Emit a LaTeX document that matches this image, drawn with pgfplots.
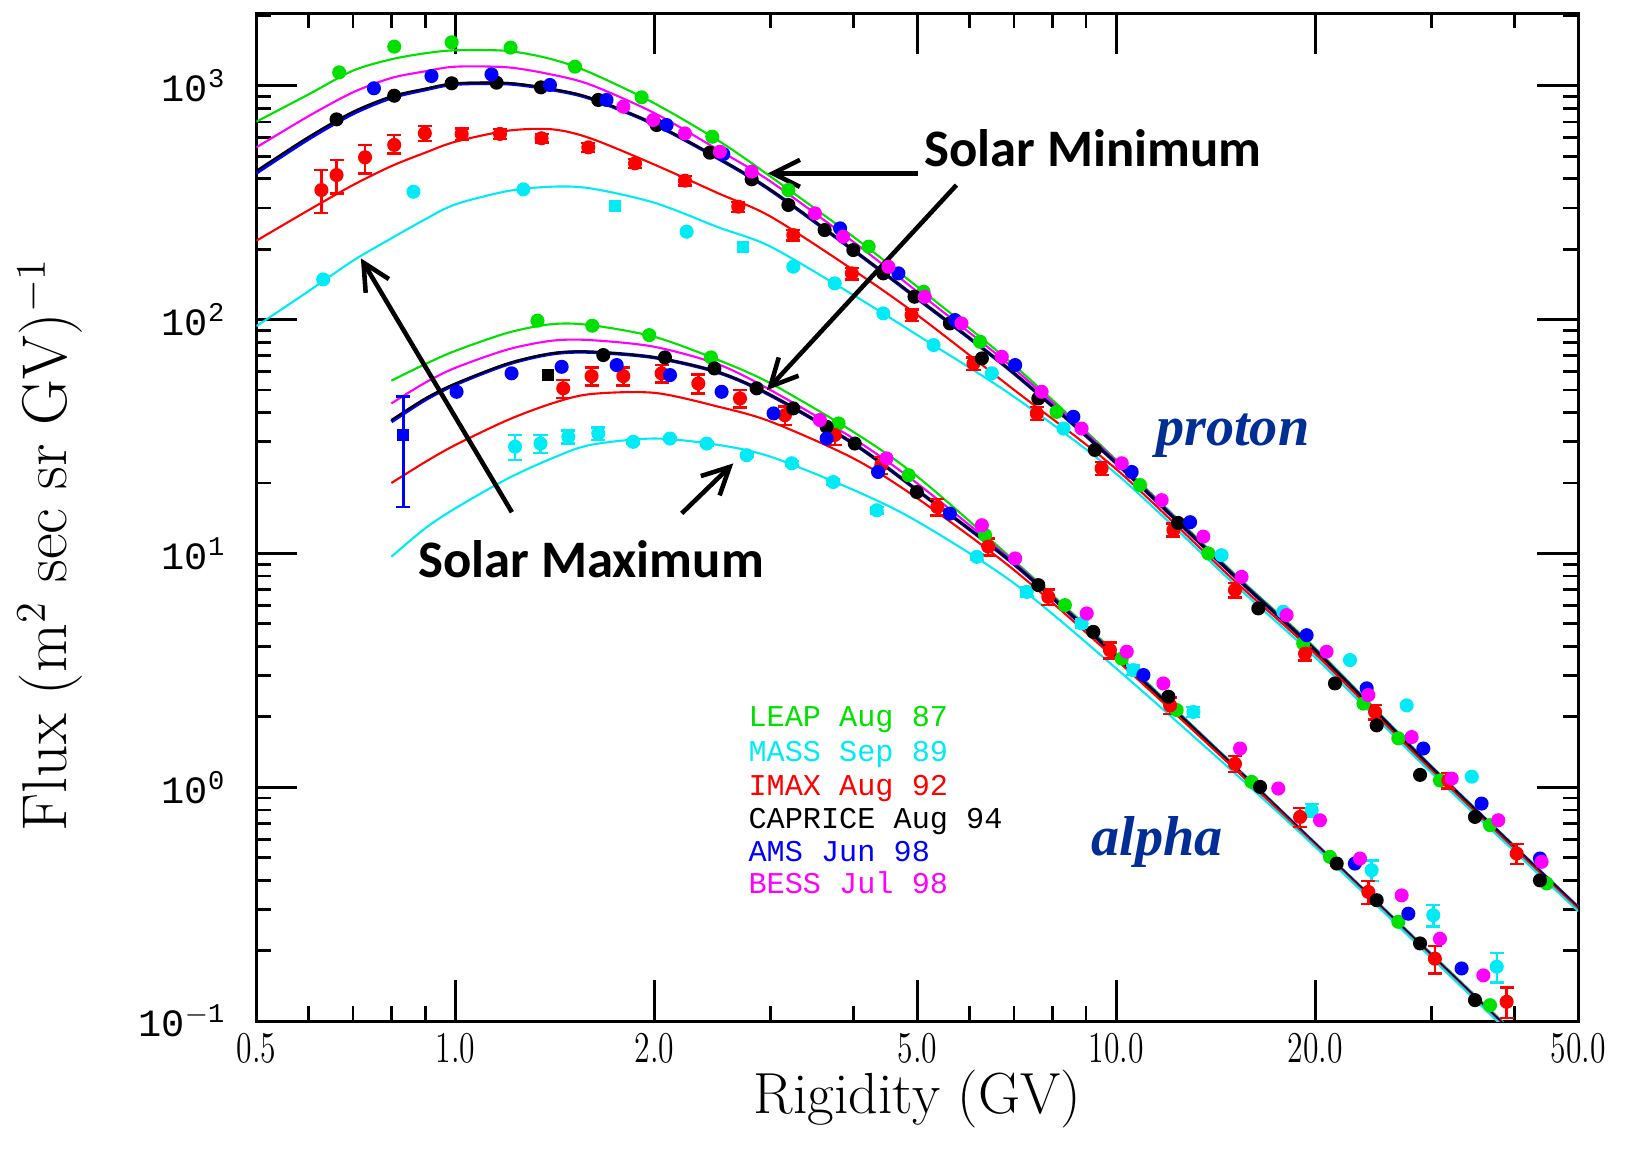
\documentclass[border=0pt]{standalone}
\usepackage{pgfplots}
\pgfplotsset{compat=1.18}
\usepackage{graphicx}
\usepackage{fontspec}
\usetikzlibrary{arrows.meta}
\newfontfamily\calib{Carlito}
\newfontfamily\mono{Liberation Mono}
\newfontfamily\tnr{Liberation Serif}
\definecolor{lgreen}{RGB}{0,225,0}
\definecolor{lcyan}{RGB}{0,235,245}
\definecolor{lred}{RGB}{255,0,0}
\definecolor{lblue}{RGB}{0,0,255}
\definecolor{lmag}{RGB}{255,0,255}
\definecolor{pblue}{RGB}{0,45,150}

\pgfplotsset{
  curve/.style={line width=0.6pt, smooth, no markers},
  pts/.style={only marks, mark=*, mark size=1.8pt},
  errs/.style={only marks, mark=*, mark size=1.8pt,
    error bars/y dir=both, error bars/y explicit,
    error bars/error bar style={line width=0.7pt},
    error bars/error mark options={rotate=90, mark size=2pt, line width=0.7pt}},
}
\newcommand{\xl}[1]{\scalebox{0.72}[1]{#1}}
\newcommand{\yl}[1]{{\mono 10\textsuperscript{#1}}}

\begin{document}
\begin{tikzpicture}
\begin{axis}[
  scale only axis, width=132.2mm, height=100.8mm,
  xmode=log, ymode=log,
  xmin=0.5, xmax=50, ymin=0.1, ymax=2040,
  xtick={0.5,1,2,5,10,20,50},
  xticklabels={\xl{0.5},\xl{1.0},\xl{2.0},\xl{5.0},\xl{10.0},\xl{20.0},\xl{50.0}},
  minor xtick={0.6,0.7,0.8,0.9,3,4,6,7,8,9,30,40},
  ytick={0.1,1,10,100,1000},
  yticklabels={\yl{$-$1},\yl{0},\yl{1},\yl{2},\yl{3}},
  minor ytick={0.2,0.3,0.4,0.5,0.6,0.7,0.8,0.9,2,3,4,5,6,7,8,9,20,30,40,50,60,70,80,90,200,300,400,500,600,700,800,900,2000},
  major tick length=4.1mm, minor tick length=1.5mm,
  tick style={line width=0.8pt, black},
  axis line style={line width=0.9pt},
  xticklabel style={font=\fontsize{12.5}{12.5}\selectfont, yshift=0mm},
  yticklabel style={font=\fontsize{11}{11}\selectfont, xshift=-1.8mm},
  xlabel={Rigidity (GV)},
  ylabel={Flux (m$^2$ sec sr GV)$^{-1}$},
  xlabel style={at={(axis description cs:0.5,-0.077)}, anchor=center, font=\fontsize{16.5}{16.5}\selectfont},
  ylabel style={at={(axis description cs:-0.156,0.473)}, anchor=center, font=\fontsize{18}{18}\selectfont},
]
% ---- proton model curves
\addplot[curve, lgreen] coordinates {(0.5,702) (0.6,919) (0.7,1160) (0.8,1297) (0.9,1376) (1.0,1417) (1.2,1408) (1.4,1297) (1.6,1137) (2.0,841) (2.5,582) (3.0,408) (4.0,226) (5.0,138) (7.0,63.8) (10,25.1) (15,8.32) (20,3.94) (30,1.23) (50,0.309)};
\addplot[curve, lmag] coordinates {(0.5,545) (0.6,742) (0.7,937) (0.8,1079) (0.9,1152) (1.0,1206) (1.2,1198) (1.4,1115) (1.6,1010) (2.0,764) (2.5,531) (3.0,389) (4.0,215) (5.0,131.5) (7.0,61.7) (10,24.8) (15,8.22) (20,3.89) (30,1.22) (50,0.308)};
\addplot[curve, lblue, line width=1pt] coordinates {(0.5,424) (0.6,593) (0.7,760) (0.8,888) (0.9,962) (1.0,1016) (1.2,1020) (1.4,962) (1.6,882) (2.0,684) (2.5,488) (3.0,357) (4.0,198) (5.0,123) (7.0,58.9) (10,24.3) (15,8.13) (20,3.85) (30,1.21) (50,0.305)};
\addplot[curve, black] coordinates {(0.5,433) (0.6,605) (0.7,774) (0.8,901) (0.9,971) (1.0,1024) (1.2,1027) (1.4,968) (1.6,886) (2.0,686) (2.5,489) (3.0,358) (4.0,198.3) (5.0,123.2) (7.0,58.9) (10,24.3) (15,8.13) (20,3.85) (30,1.21) (50,0.305)};
\addplot[curve, lred] coordinates {(0.5,217.4) (0.6,294) (0.7,376) (0.8,453) (0.9,517) (1.0,576) (1.2,642) (1.4,651) (1.6,596) (2.0,460) (2.5,346.5) (3.0,275.4) (4.0,162.8) (5.0,104.5) (7.0,50.1) (10,22.9) (15,7.76) (20,3.72) (30,1.18) (50,0.301)};
\addplot[curve, lcyan] coordinates {(0.5,93.8) (0.6,132.4) (0.7,178.5) (0.8,222.5) (0.9,268.3) (1.0,310.9) (1.2,354.5) (1.4,370) (1.6,364) (2.0,316) (2.5,248) (3.0,204.8) (4.0,127.3) (5.0,85.8) (7.0,46.8) (10,21.9) (15,7.5) (20,3.59) (30,1.15) (50,0.295)};
% ---- alpha model curves
\addplot[curve, lgreen] coordinates {(0.8,54.8) (0.9,64.5) (1.0,73.5) (1.2,87.8) (1.4,95.6) (1.6,94.7) (2.0,84.4) (2.5,67.1) (3.0,53.3) (4.0,33.1) (5.0,21.3) (7.0,9.33) (10,3.73) (15,1.26) (20,0.579) (30,0.194) (40,0.0891) (43,0.0733)};
\addplot[curve, lmag] coordinates {(0.8,43.8) (0.9,53.7) (1.0,62.2) (1.2,74.5) (1.4,81.2) (1.6,81.7) (2.0,76.5) (2.5,64.3) (3.0,49.9) (4.0,31.0) (5.0,19.9) (7.0,9.18) (10,3.68) (15,1.25) (20,0.575) (30,0.192) (40,0.088) (43,0.072)};
\addplot[curve, lblue, line width=1pt] coordinates {(0.8,36.6) (0.9,45.4) (1.0,52.8) (1.2,64.5) (1.4,71.4) (1.6,72.6) (2.0,68.8) (2.5,59.4) (3.0,47.4) (4.0,29.5) (5.0,18.6) (7.0,9.0) (10,3.63) (15,1.24) (20,0.57) (30,0.19) (40,0.087) (43,0.071)};
\addplot[curve, black] coordinates {(0.8,37.2) (0.9,46.0) (1.0,53.3) (1.2,64.9) (1.4,71.7) (1.6,72.8) (2.0,68.9) (2.5,59.5) (3.0,47.5) (4.0,29.5) (5.0,18.6) (7.0,9.0) (10,3.63) (15,1.24) (20,0.57) (30,0.19) (40,0.087) (43,0.071)};
\addplot[curve, lred] coordinates {(0.8,20.0) (0.9,24.6) (1.0,29.1) (1.2,37.2) (1.4,43.8) (1.6,48.0) (2.0,48.6) (2.5,42.4) (3.0,36.6) (4.0,25.5) (5.0,17.2) (7.0,8.5) (10,3.51) (15,1.22) (20,0.565) (30,0.188) (40,0.086) (43,0.070)};
\addplot[curve, lcyan] coordinates {(0.8,9.68) (0.9,12.8) (1.0,15.6) (1.2,20.9) (1.4,25.5) (1.6,29.1) (2.0,31.0) (2.5,29.1) (3.0,25.9) (4.0,18.7) (5.0,13.7) (7.0,7.46) (10,3.22) (15,1.17) (20,0.556) (30,0.186) (40,0.085) (43,0.069)};

% ---- LEAP Aug 87
\addplot[pts, lgreen] coordinates {(0.667,1140) (0.808,1469) (0.987,1533) (1.212,1455) (1.517,1206) (1.913,892) (2.447,605) (3.19,358) (4.22,205) (5.11,131.5) (6.22,80.4) (8.12,40.3) (10.86,19.6) (13.78,10.0) (19.18,4.12) (23.65,2.28) (26.71,1.62) (30.88,1.07) (36.77,0.689) (44.78,0.388)};
\addplot[pts, lgreen] coordinates {(1.331,98.9) (1.611,94.1) (1.965,85.8) (2.436,68.9) (3.80,35.96) (4.85,21.6) (6.33,11.98) (8.36,6.01) (10.19,3.55) (12.34,2.14) (16.02,1.055) (21.05,0.504) (26.71,0.266) (36.77,0.117)};
% ---- MASS Sep 89
\addplot[pts, lcyan] coordinates {(0.631,148.5) (0.864,352) (1.267,360.5) (2.238,237.5) (3.245,168.3) (3.75,142.8) (4.44,106.3) (5.29,77.8) (6.48,58.9) (8.32,34.2) (14.43,9.83) (17.89,5.63) (22.57,3.50) (27.5,2.24) (34.5,1.11)};
\addplot[only marks, mark=square*, mark size=1.5pt, lcyan] coordinates {(1.743,305.9) (2.726,203.5)};
\addplot[lcyan, errs] coordinates {(1.231,28.6) +- (0,3.5) (1.345,29.5) +- (0,2.6) (1.482,31.5) +- (0,2.0) (1.645,32.6) +- (0,2.0) (1.858,30.0) +- (0,0.5) (2.112,31.0) +- (0,0.5) (2.40,29.5) +- (0,0.5) (2.759,26.3) +- (0,0.5) (3.227,24.3) +- (0,0.5) (3.73,20.2) +- (0,0.5) (4.34,15.3) +- (0,0.5) (6.15,9.67) +- (0,0.3) (7.32,6.85) +- (0,0.3) (8.86,5.02) +- (0,0.2) (10.61,3.17) +- (0,0.15) (13.08,2.10) +- (0,0.1) (19.75,0.798) +- (0,0.05) (24.34,0.442) +- (0,0.045) (30.17,0.284) +- (0,0.03) (37.64,0.171) +- (0,0.025)};
% ---- IMAX Aug 92
\addplot[lred, errs] coordinates {(0.627,358) += (0,78) -= (0,73) (0.661,415) += (0,66) -= (0,69) (0.730,494) += (0,64) -= (0,72) (0.808,558) += (0,57) -= (0,44) (0.899,626) +- (0,45) (1.022,622) +- (0,35) (1.168,622) +- (0,30) (1.35,596) +- (0,25) (1.589,545) +- (0,25) (1.870,465.6) +- (0,20) (2.225,392.6) +- (0,18) (2.679,303.8) +- (0,15) (3.245,229.8) +- (0,12) (3.98,157.6) +- (0,9) (4.90,104.5) +- (0,6) (6.08,64.9) +- (0,4) (7.58,39.7) +- (0,2.5) (9.50,23.1) +- (0,1.5) (12.2,12.6) +- (0,0.8) (15.12,6.97) +- (0,0.5) (19.3,3.73) +- (0,0.25) (24.63,2.10) +- (0,0.15) (31.8,1.07) +- (0,0.08) (40.34,0.521) +- (0,0.05)};
\addplot[lred, errs] coordinates {(1.456,50.8) +- (0,4.5) (1.607,57.3) +- (0,5) (1.795,57.3) +- (0,5) (2.051,58.9) +- (0,5) (2.331,53.3) +- (0,5) (2.695,46.0) +- (0,4) (3.152,39.0) +- (0,3.5) (3.75,32.1) +- (0,3) (4.41,23.9) +- (0,2) (5.36,15.8) +- (0,1.3) (6.40,10.7) +- (0,0.9) (7.89,6.52) +- (0,0.5) (9.78,3.86) +- (0,0.3) (12.06,2.24) +- (0,0.18) (15.12,1.26) +- (0,0.1) (18.97,0.747) +- (0,0.07) (24.06,0.357) +- (0,0.04) (30.34,0.185) +- (0,0.025) (38.96,0.121) +- (0,0.018)};
% ---- CAPRICE Aug 94
\addplot[pts, black] coordinates {(0.661,718) (0.808,906) (0.987,1024) (1.154,1030) (1.347,984) (1.645,869) (2.016,679) (2.427,517) (2.807,398) (3.19,309) (3.62,241.4) (4.0,198.3) (4.44,157.6) (4.95,125.2) (5.60,96.3) (6.26,68.2) (7.62,46.0) (9.28,27.7) (12.4,13.5) (16.4,5.82) (21.42,2.78) (24.77,1.84) (28.81,1.13) (34.89,0.747) (43.75,0.40)};
\addplot[pts, black] coordinates {(1.674,70.5) (2.075,68.9) (2.465,61.8) (2.856,50.8) (3.245,41.7) (3.645,34.8) (4.02,29.5) (4.99,18.3) (7.62,7.32) (9.23,4.62) (11.99,2.44) (16.5,1.004) (21.55,0.472) (24.77,0.329) (28.81,0.215) (34.89,0.123)};
\addplot[only marks, mark=square*, mark size=1.5pt, black] coordinates {(1.382,57.9)};
% ---- AMS Jun 98
\addplot[pts, lblue] coordinates {(0.753,975) (0.920,1100) (1.134,1118) (1.390,1007) (1.693,869) (2.087,679) (2.543,510) (3.82,245.5) (4.68,157.6) (5.70,99.5) (7.03,63.9) (8.61,38.4) (10.55,22.3) (12.93,13.6) (19.41,4.47) (23.92,2.65) (29.14,1.465) (35.7,0.852) (43.75,0.496)};
\addplot[pts, lblue] coordinates {(1.004,49.1) (1.216,58.9) (1.448,62.8) (1.754,63.9) (2.112,57.9) (2.528,49.1) (3.03,39.7) (3.645,31.0) (4.36,22.3) (5.6,14.8) (10.99,3.02) (22.96,0.472) (27.66,0.288) (33.3,0.168) (40.1,0.099)};
\addplot[lblue, errs, mark=square*, mark size=1.5pt] coordinates {(0.834,32.1) += (0,14.7) -= (0,16.3)};
% ---- BESS Jul 98
\addplot[pts, lmag] coordinates {(1.795,813) (1.992,713) (2.225,625) (2.513,522) (2.807,429) (3.50,284.6) (3.86,226) (4.52,168.3) (5.13,125.2) (5.83,96.3) (6.71,69.3) (7.71,49.1) (8.86,34.2) (10.19,24.3) (11.71,16.9) (13.54,11.8) (15.47,7.94) (18.1,5.45) (20.8,3.80) (24.06,2.48) (27.98,1.64) (32.17,1.09) (37.84,0.723) (44.0,0.48)};
\addplot[pts, lmag] coordinates {(3.56,37.2) (4.49,25.5) (6.26,13.2) (7.03,9.52) (9.02,5.54) (10.37,3.80) (11.78,2.78) (15.39,1.465) (17.58,0.988) (20.33,0.723) (23.37,0.496) (27.02,0.345) (30.88,0.225) (35.92,0.157)};

% ---- annotations
\draw[line width=1.3pt, -{Straight Barb[length=2.7mm, width=2.7mm, line width=1.3pt]}] (axis cs:5.01,422) -- (axis cs:2.97,422);
\draw[line width=1.3pt, -{Straight Barb[length=2.7mm, width=2.7mm, line width=1.3pt]}] (axis cs:5.73,376) -- (axis cs:2.96,49.9);
\draw[line width=1.3pt, -{Straight Barb[length=2.7mm, width=2.7mm, line width=1.3pt]}] (axis cs:1.2175,15.0) -- (axis cs:0.7195,182.7);
\draw[line width=1.3pt, -{Straight Barb[length=2.7mm, width=2.7mm, line width=1.3pt]}] (axis cs:2.20,14.83) -- (axis cs:2.633,24.26);
\node[font=\calib\bfseries\fontsize{15}{15}\selectfont] at (axis cs:9.22,541) {Solar Minimum};
\node[font=\calib\bfseries\fontsize{15}{15}\selectfont] at (axis cs:1.604,9.45) {Solar Maximum};
\node[anchor=base, inner sep=0, text=pblue, font=\tnr\bfseries\itshape\fontsize{16}{16}\selectfont] at (axis cs:15.0,29.05) {proton};
\node[anchor=base, inner sep=0, text=pblue, font=\tnr\bfseries\itshape\fontsize{16}{16}\selectfont] at (axis cs:11.54,0.5124) {alpha};
% ---- legend text
\node[anchor=base west, inner sep=0, text=lgreen, font=\mono\fontsize{8.6}{8.6}\selectfont] at (axis cs:2.77,1.813) {LEAP Aug 87};
\node[anchor=base west, inner sep=0, text=lcyan, font=\mono\fontsize{8.6}{8.6}\selectfont] at (axis cs:2.77,1.284) {MASS Sep 89};
\node[anchor=base west, inner sep=0, text=lred, font=\mono\fontsize{8.6}{8.6}\selectfont] at (axis cs:2.77,0.925) {IMAX Aug 92};
\node[anchor=base west, inner sep=0, text=black, font=\mono\fontsize{8.6}{8.6}\selectfont] at (axis cs:2.77,0.6665) {CAPRICE Aug 94};
\node[anchor=base west, inner sep=0, text=lblue, font=\mono\fontsize{8.6}{8.6}\selectfont] at (axis cs:2.77,0.4796) {AMS Jun 98};
\node[anchor=base west, inner sep=0, text=lmag, font=\mono\fontsize{8.6}{8.6}\selectfont] at (axis cs:2.77,0.3513) {BESS Jul 98};
\end{axis}
\pgfresetboundingbox
\path ([xshift=-25.65mm, yshift=-13.0mm]current axis.south west) rectangle ([xshift=4.67mm, yshift=1.33mm]current axis.north east);
\end{tikzpicture}
\end{document}
